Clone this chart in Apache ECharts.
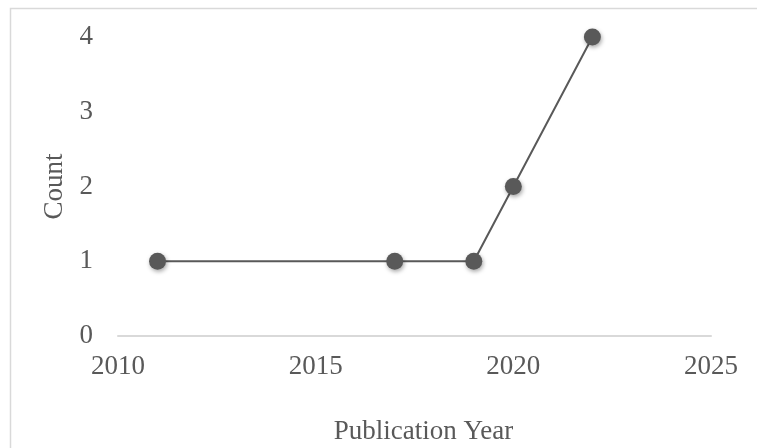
<!DOCTYPE html>
<html>
<head>
<meta charset="utf-8">
<script src="https://cdn.jsdelivr.net/npm/echarts@6/dist/echarts.min.js"></script>
<style>
  html, body { margin: 0; padding: 0; background: #fff; }
  #chart { width: 757px; height: 448px; }
</style>
</head>
<body>
<div id="chart"></div>
<script>
// publication counts per year
const years = [2011, 2017, 2019, 2020, 2022];
const counts = [1, 1, 1, 2, 4];
const xTicks = [2010, 2015, 2020, 2025];
const yTicks = [0, 1, 2, 3, 4];

const chart = echarts.init(document.getElementById("chart"));
const serif = "'Liberation Serif', 'Times New Roman', serif";

const option = {
  backgroundColor: "#fff",
  animation: false,
  graphic: [
    {
      type: "rect",
      shape: { x: 10.5, y: 8.5, width: 780, height: 480 },
      style: { fill: "none", stroke: "#d9d9d9", lineWidth: 1.5 },
      silent: true,
    },
  ],
  grid: { left: 118, right: 46, top: 37, bottom: 112, outerBoundsMode: "none" },
  xAxis: {
    type: "value",
    min: xTicks[0],
    max: xTicks[xTicks.length - 1],
    interval: 5,
    name: "Publication Year",
    nameLocation: "middle",
    nameGap: 82,
    nameTextStyle: { fontFamily: serif, fontSize: 27, color: "#595959", padding: [0, 0, 0, 18] },
    axisLine: { show: true, lineStyle: { color: "#d9d9d9", width: 2 } },
    axisTick: { show: false },
    splitLine: { show: false },
    axisLabel: {
      fontFamily: serif,
      fontSize: 27,
      color: "#595959",
      margin: 17,
      formatter: (v) => String(v),
    },
  },
  yAxis: {
    type: "value",
    min: yTicks[0],
    max: yTicks[yTicks.length - 1],
    interval: 1,
    name: "Count",
    nameLocation: "middle",
    nameGap: 44,
    nameRotate: 90,
    nameTextStyle: { fontFamily: serif, fontSize: 27, color: "#595959" },
    axisLine: { show: false },
    axisTick: { show: false },
    splitLine: { show: false },
    axisLabel: {
      fontFamily: serif,
      fontSize: 27,
      color: "#595959",
      margin: 25,
    },
  },
  series: [
    {
      type: "line",
      data: years.map((y, i) => [y, counts[i]]),
      symbol: "circle",
      symbolSize: 17,
      lineStyle: { color: "#595959", width: 2 },
      itemStyle: {
        color: "#595959",
        shadowColor: "rgba(0,0,0,0.35)",
        shadowBlur: 4,
        shadowOffsetX: 1,
        shadowOffsetY: 2,
      },
    },
  ],
};
chart.setOption(option);
</script>
</body>
</html>
